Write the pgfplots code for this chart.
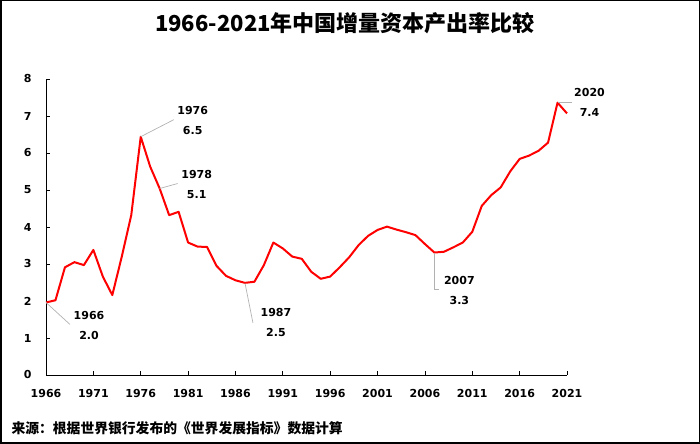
\documentclass[border=0pt]{standalone}
\usepackage{pgfplots}
\pgfplotsset{compat=1.18}
\usepackage{fontspec}
\setmainfont{DejaVu Sans}
\newfontfamily\cjk{Noto Sans CJK SC}

\begin{document}
\begin{tikzpicture}[x=1bp,y=1bp]
  \useasboundingbox (0,0) rectangle (700,444);
  \draw[line width=1.5bp] (0.75,0.75) rectangle (699.25,443.25);

  \node at (345,421) {\cjk\bfseries\fontsize{22bp}{24bp}\selectfont 1966-2021年中国增量资本产出率比较};
  \node[anchor=west] at (8,16) {\cjk\bfseries\fontsize{13.8bp}{15bp}\selectfont 来源：根据世界银行发布的《世界发展指标》数据计算};

  \begin{axis}[
    at={(46bp,69bp)},
    anchor=south west,
    scale only axis,
    width=521bp,
    height=296bp,
    xmin=1966, xmax=2021,
    ymin=0, ymax=8,
    axis lines*=left,
    axis line style={line width=0.8bp},
    tick align=inside,
    major tick length=4bp,
    tick style={line width=0.8bp, black},
    xtick={1966,1971,...,2021},
    ytick={0,1,...,8},
    /pgf/number format/1000 sep={},
    /pgf/number format/assume math mode=true,
    ticklabel style={font=\bfseries\fontsize{11bp}{13bp}\selectfont},
    xticklabel style={yshift=-11bp},
    yticklabel style={xshift=-11bp},
    clip=false,
  ]
  \addplot[red, line width=2bp, line join=round] coordinates {
    (1966,1.96)(1967,2.02)(1968,2.91)(1969,3.05)(1970,2.97)
    (1971,3.38)(1972,2.66)(1973,2.16)(1974,3.20)(1975,4.32)
    (1976,6.44)(1977,5.63)(1978,5.04)(1979,4.32)(1980,4.41)
    (1981,3.58)(1982,3.47)(1983,3.46)(1984,2.95)(1985,2.68)
    (1986,2.56)(1987,2.49)(1988,2.52)(1989,2.97)(1990,3.58)
    (1991,3.42)(1992,3.20)(1993,3.14)(1994,2.79)(1995,2.60)
    (1996,2.66)(1997,2.91)(1998,3.18)(1999,3.51)(2000,3.76)
    (2001,3.92)(2002,4.01)(2003,3.93)(2004,3.86)(2005,3.78)
    (2006,3.54)(2007,3.31)(2008,3.33)(2009,3.45)(2010,3.58)
    (2011,3.87)(2012,4.57)(2013,4.86)(2014,5.07)(2015,5.50)
    (2016,5.84)(2017,5.93)(2018,6.06)(2019,6.28)(2020,7.36)
    (2021,7.07)
  };

  \tikzset{lbl/.style={font=\bfseries\fontsize{11bp}{20bp}\selectfont, align=center}}
  \draw[gray!60, line width=0.7bp] (axis cs:1966,1.96) -- ++(24bp,-22bp);
  \node[lbl] at ([shift={(43bp,-23bp)}]axis cs:1966,1.96) {1966\\2.0};
  \draw[gray!60, line width=0.7bp] (axis cs:1976,6.44) -- ++(33bp,17bp);
  \node[lbl] at ([shift={(52bp,16bp)}]axis cs:1976,6.44) {1976\\6.5};
  \draw[gray!60, line width=0.7bp] (axis cs:1978,5.04) -- ++(18bp,5bp);
  \node[lbl] at ([shift={(37bp,4bp)}]axis cs:1978,5.04) {1978\\5.1};
  \draw[gray!60, line width=0.7bp] (axis cs:1987,2.49) -- ++(8bp,-40bp);
  \node[lbl] at ([shift={(31bp,-40bp)}]axis cs:1987,2.49) {1987\\2.5};
  \draw[gray!60, line width=0.7bp] (axis cs:2007,3.31) -- ++(0bp,-37bp) -- ++(5bp,0bp);
  \node[lbl] at ([shift={(25bp,-38bp)}]axis cs:2007,3.31) {2007\\3.3};
  \draw[gray!60, line width=0.7bp] (axis cs:2020,7.36) -- ++(14bp,0bp);
  \node[lbl] at ([shift={(32bp,0bp)}]axis cs:2020,7.36) {2020\\7.4};
  \end{axis}
\end{tikzpicture}
\end{document}
